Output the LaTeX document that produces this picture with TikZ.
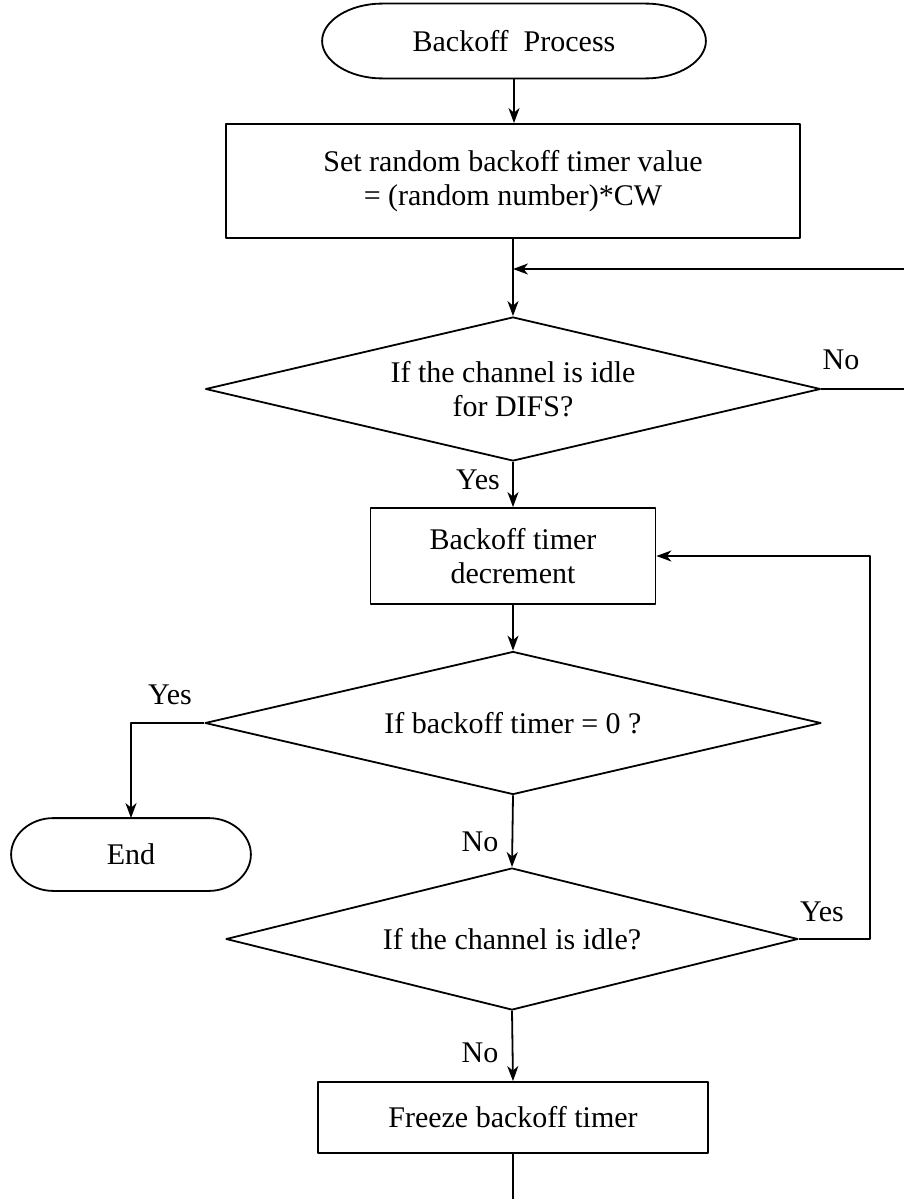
\documentclass[tikz,border=0pt]{standalone}
\usepackage{fontspec}
\setmainfont{Liberation Serif}
\usetikzlibrary{arrows.meta,shapes.geometric}
% outline of a terminal: flat top and bottom, elliptic end caps
% #1 node, #2 cap width, #3 horizontal handle, #4 vertical handle
\newcommand\capsule[4]{%
  \draw ([xshift=#2]#1.north west) -- ([xshift=-#2]#1.north east)
    .. controls +(#3,0pt) and +(0pt,#4) .. (#1.east)
    .. controls +(0pt,-#4) and +(#3,0pt) .. ([xshift=-#2]#1.south east)
    -- ([xshift=#2]#1.south west)
    .. controls +(-#3,0pt) and +(0pt,-#4) .. (#1.west)
    .. controls +(0pt,#4) and +(-#3,0pt) .. ([xshift=#2]#1.north west) -- cycle;}
\begin{document}
\begin{tikzpicture}[x=1pt,y=-1pt,
  line width=1.8pt, line join=round,
  every node/.style={font=\fontsize{30}{34}\selectfont},
  flow/.style={-{Stealth[length=15pt,width=11pt,inset=4.5pt]}},
  procbox/.style={draw, rectangle, inner sep=0pt, align=center},
  decision/.style={draw, diamond, inner sep=0pt, align=center},
  termbox/.style={rectangle, inner sep=0pt},
  lbl/.style={inner sep=0pt}]
\useasboundingbox (0,0) rectangle (904,1199);

% process steps
\node[termbox, minimum width=382pt, minimum height=73pt] (start) at (514,41) {Backoff\ \ Process};
\capsule{start}{60pt}{33pt}{20pt}
\node[procbox, minimum width=574pt, minimum height=114pt] (setcw) at (513,181)
  {Set random backoff timer value\\= (random number)*CW};
\node[decision, aspect=4.27, minimum width=615pt, minimum height=144pt] (difs) at (513,389)
  {If the channel is idle\\for DIFS?};
\node[procbox, minimum width=285pt, minimum height=96pt] (dec) at (513,556)
  {Backoff timer\\decrement};
\node[decision, aspect=4.31, minimum width=616pt, minimum height=143pt] (zero) at (513,723)
  {If backoff timer = 0 ?};
\node[termbox, minimum width=238pt, minimum height=71pt] (finish) at (131,854.5) {End};
\capsule{finish}{42pt}{23pt}{19.6pt}
\node[decision, aspect=4.03, minimum width=572pt, minimum height=142pt] (idle) at (512,939)
  {If the channel is idle?};
\node[procbox, minimum width=390pt, minimum height=71pt] (freeze) at (513,1117.5)
  {Freeze backoff timer};

% routing points
\coordinate (merge) at (513,269);
\coordinate (noright) at (910,389);
\coordinate (noup) at (910,269);
\coordinate (loop) at (870,939);
\coordinate (exit) at (513,1205);

% connectors
\draw[flow] (start.south) -- (start.south |- setcw.north);
\draw (setcw.south) -- (merge);
\draw[flow] (merge) -- (difs.north);
\draw[flow] (difs.east) -- (noright) -- (noup) -- (merge);
\draw[flow] (difs.south) -- (dec.north);
\draw[flow] (dec.south) -- (zero.north);
\draw[flow] (zero.west) -| (finish.north);
\draw[flow] (zero.south) -- (idle.north);
\draw[flow] (idle.east) -- (loop) |- (dec.east);
\draw[flow] (idle.south) -- (freeze.north);
\draw (freeze.south) -- (exit);

% branch labels
\node[lbl] (no1) at (841,360) {No};
\node[lbl] (yes1) at (478,480) {Yes};
\node[lbl] (yes2) at (170,695) {Yes};
\node[lbl] (no2) at (480,842) {No};
\node[lbl] (yes3) at (822,912) {Yes};
\node[lbl] (no3) at (480,1053) {No};
\end{tikzpicture}
\end{document}
